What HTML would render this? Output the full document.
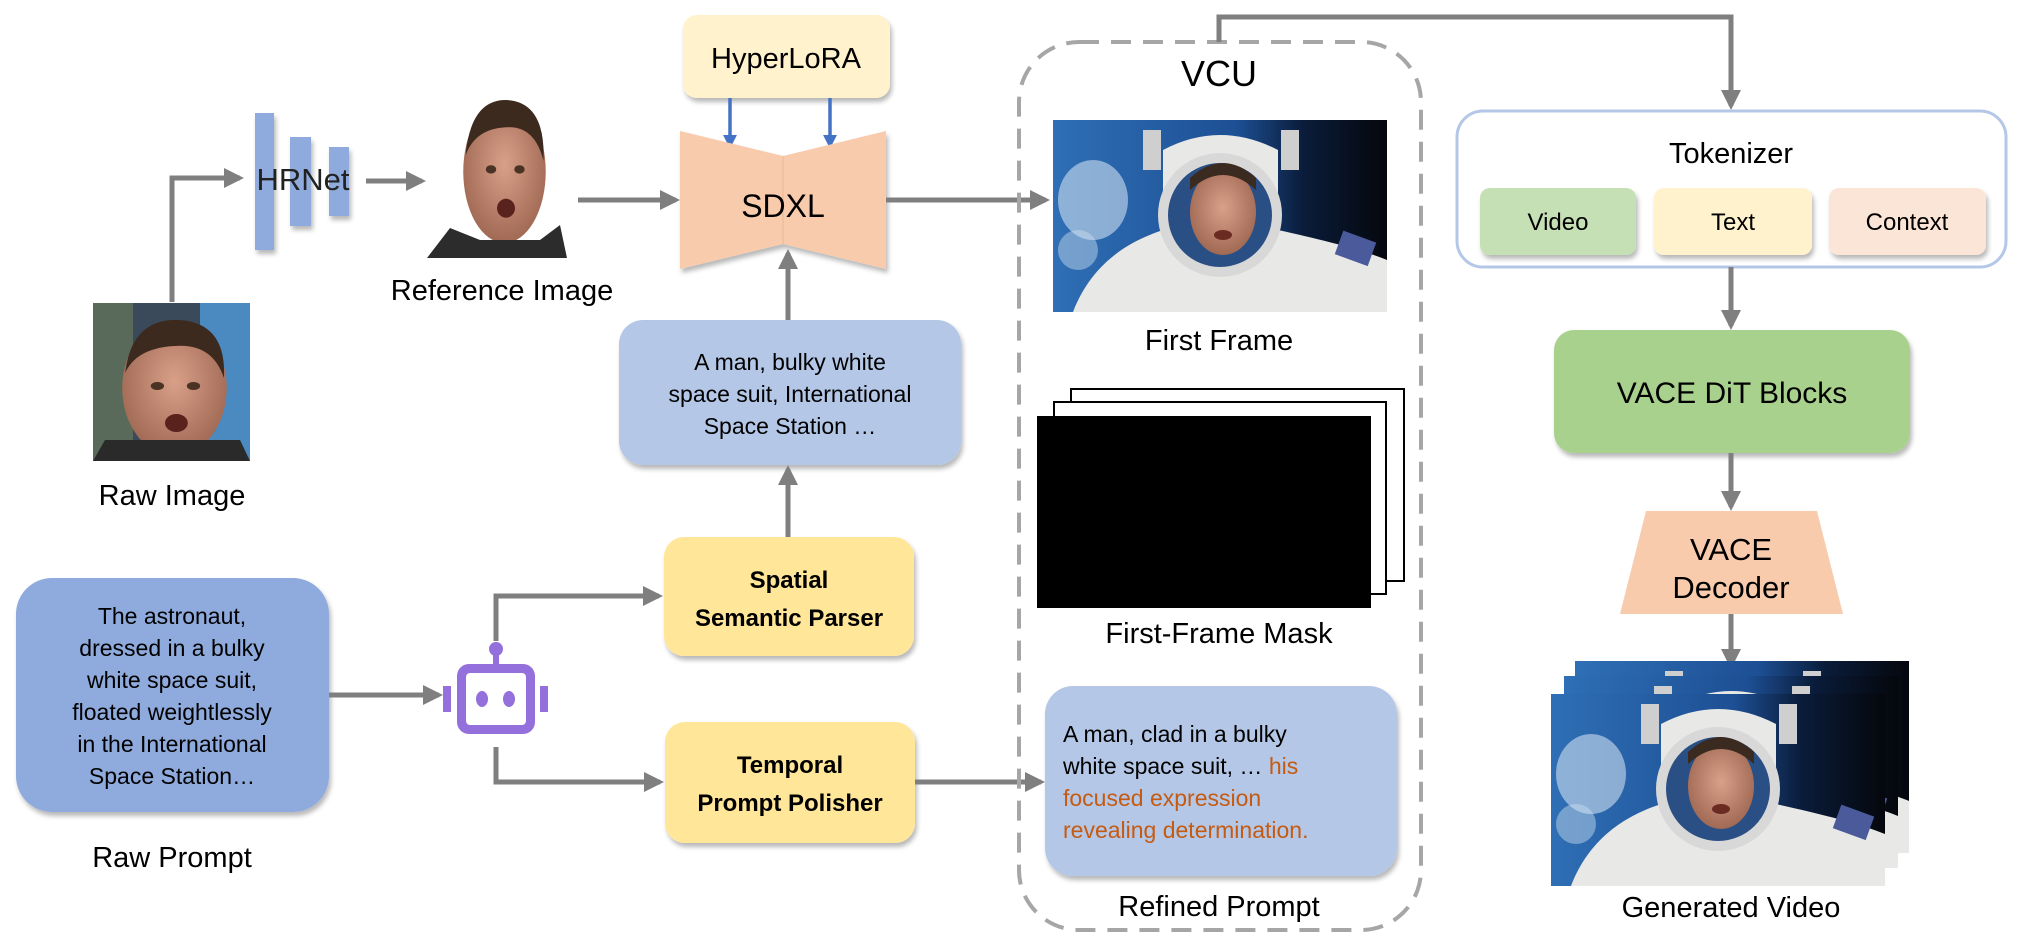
<!DOCTYPE html>
<html><head><meta charset="utf-8"><style>
html,body{margin:0;padding:0;background:#fff;}
svg{display:block;font-family:"Liberation Sans",Arial,sans-serif;}
</style></head><body>
<svg width="2023" height="938" viewBox="0 0 2023 938" xmlns="http://www.w3.org/2000/svg">
<defs>
<filter id="sh" x="-10%" y="-10%" width="125%" height="130%"><feDropShadow dx="2" dy="4" stdDeviation="2.5" flood-color="#000" flood-opacity="0.28"/></filter>
<marker id="ag" markerWidth="4" markerHeight="4" refX="3.2" refY="2" orient="auto" markerUnits="strokeWidth"><path d="M0,0 L4,2 L0,4 z" fill="#7f7f7f"/></marker>
<marker id="ab" markerWidth="4" markerHeight="4" refX="3.2" refY="2" orient="auto" markerUnits="strokeWidth"><path d="M0,0 L4,2 L0,4 z" fill="#4472c4"/></marker>
<linearGradient id="earth" x1="0" y1="0" x2="1" y2="0"><stop offset="0" stop-color="#2f6fb5"/><stop offset="0.55" stop-color="#1d4f94"/><stop offset="0.75" stop-color="#0a1c3a"/><stop offset="1" stop-color="#05070c"/></linearGradient>
<radialGradient id="skin" cx="0.5" cy="0.45" r="0.6"><stop offset="0" stop-color="#d9a089"/><stop offset="1" stop-color="#9c6550"/></radialGradient>
<g id="astro">
  <rect x="0" y="0" width="334" height="192" fill="url(#earth)"/>
  <ellipse cx="40" cy="80" rx="35" ry="40" fill="#cfe0f0" opacity="0.6"/>
  <ellipse cx="25" cy="130" rx="20" ry="20" fill="#cfe0f0" opacity="0.45"/>
  <path d="M20,192 C40,140 80,120 110,110 L110,30 Q167,0 225,30 L225,110 C270,120 310,130 334,140 L334,192 Z" fill="#e8e8e6"/>
  <circle cx="167" cy="95" r="62" fill="#d8d8d8"/>
  <circle cx="167" cy="95" r="52" fill="#2a4f85"/>
  <ellipse cx="170" cy="92" rx="33" ry="43" fill="url(#skin)"/>
  <path d="M137,70 Q170,40 203,70 L203,58 Q170,28 137,58 Z" fill="#3a2a20"/>
  <ellipse cx="170" cy="115" rx="9" ry="5" fill="#6b2a22"/>
  <rect x="285" y="115" width="35" height="25" fill="#4a5a9a" transform="rotate(20 300 128)"/>
  <rect x="90" y="10" width="18" height="40" fill="#cfcfcf"/><rect x="228" y="10" width="18" height="40" fill="#cfcfcf"/>
</g>
<g id="face">
  <ellipse cx="70" cy="70" rx="55" ry="68" fill="url(#skin)"/>
  <path d="M18,55 Q25,0 75,2 Q125,5 122,60 Q110,25 70,28 Q30,30 18,55 Z" fill="#3d2a1e"/>
  <ellipse cx="52" cy="68" rx="7" ry="4" fill="#4a3325"/><ellipse cx="90" cy="68" rx="7" ry="4" fill="#4a3325"/>
  <ellipse cx="72" cy="105" rx="12" ry="9" fill="#5a221c"/>
</g>
</defs>

<!-- Raw image -->
<rect x="93" y="303" width="157" height="158" fill="#3a4a5a"/>
<rect x="200" y="303" width="50" height="158" fill="#4a8ac0"/>
<rect x="93" y="303" width="40" height="158" fill="#5a6a5a"/>
<use href="#face" transform="translate(108,318) scale(0.95,1)"/>
<path d="M105,440 L240,440 L250,461 L93,461 Z" fill="#2a2a2a"/>
<text x="172" y="505" font-size="29" text-anchor="middle">Raw Image</text>

<!-- connector raw->HRNet -->
<path d="M172,302 V178 H240" fill="none" stroke="#7f7f7f" stroke-width="5" marker-end="url(#ag)"/>
<!-- HRNet -->
<g filter="url(#sh)">
<rect x="255" y="113" width="19" height="137" fill="#8faadc"/>
<rect x="290" y="137" width="21" height="89" fill="#8faadc"/>
<rect x="329" y="147" width="20" height="69" fill="#8faadc"/>
</g>
<text x="303" y="190" font-size="31" text-anchor="middle" fill="#222">HRNet</text>
<path d="M366,181 H422" fill="none" stroke="#7f7f7f" stroke-width="5" marker-end="url(#ag)"/>
<!-- reference image -->
<use href="#face" transform="translate(452,98) scale(0.75,1.05)"/>
<path d="M427,258 L450,228 L480,240 L540,240 L560,225 L567,258 Z" fill="#2c2c2c"/>
<text x="502" y="300" font-size="29" text-anchor="middle">Reference Image</text>
<path d="M578,200 H676" fill="none" stroke="#7f7f7f" stroke-width="5" marker-end="url(#ag)"/>

<!-- HyperLoRA -->
<rect x="683" y="15" width="207" height="83" rx="14" fill="#fff2cc" filter="url(#sh)"/>
<text x="786" y="68" font-size="29" text-anchor="middle">HyperLoRA</text>
<path d="M730,98 V146" stroke="#4472c4" stroke-width="3.5" marker-end="url(#ab)"/>
<path d="M830,98 V146" stroke="#4472c4" stroke-width="3.5" marker-end="url(#ab)"/>
<!-- SDXL -->
<g filter="url(#sh)">
<path d="M680,131 L783,156 L783,244 L680,269 Z" fill="#f8cbad"/>
<path d="M886,131 L783,156 L783,244 L886,269 Z" fill="#f8cbad"/>
</g>
<line x1="783" y1="156" x2="783" y2="244" stroke="#e8b898" stroke-width="1"/>
<text x="783" y="217" font-size="32" text-anchor="middle">SDXL</text>
<path d="M886,200 H1046" fill="none" stroke="#7f7f7f" stroke-width="5" marker-end="url(#ag)"/>
<path d="M788,320 V253" fill="none" stroke="#7f7f7f" stroke-width="5" marker-end="url(#ag)"/>

<!-- prompt box -->
<rect x="619" y="320" width="342" height="145" rx="24" fill="#b4c7e7" filter="url(#sh)"/>
<g font-size="23" text-anchor="middle"><text x="790" y="370">A man, bulky white</text><text x="790" y="402">space suit, International</text><text x="790" y="434">Space Station …</text></g>
<path d="M788,537 V469" fill="none" stroke="#7f7f7f" stroke-width="5" marker-end="url(#ag)"/>

<!-- Raw prompt -->
<rect x="16" y="578" width="313" height="234" rx="36" fill="#8faadc" filter="url(#sh)"/>
<g font-size="23" text-anchor="middle"><text x="172" y="624">The astronaut,</text><text x="172" y="656">dressed in a bulky</text><text x="172" y="688">white space suit,</text><text x="172" y="720">floated weightlessly</text><text x="172" y="752">in the International</text><text x="172" y="784">Space Station…</text></g>
<text x="172" y="867" font-size="29" text-anchor="middle">Raw Prompt</text>
<path d="M329,695 H439" fill="none" stroke="#7f7f7f" stroke-width="5" marker-end="url(#ag)"/>

<!-- robot -->
<g fill="#9370db">
<circle cx="496" cy="649" r="7"/><rect x="493" y="650" width="6" height="16"/>
<rect x="457" y="664" width="78" height="70" rx="12"/>
<rect x="443" y="686" width="8" height="26"/><rect x="540" y="686" width="8" height="26"/>
</g>
<rect x="466" y="673" width="60" height="52" rx="4" fill="#fff"/>
<ellipse cx="482" cy="699" rx="6" ry="8" fill="#9370db"/><ellipse cx="509" cy="699" rx="6" ry="8" fill="#9370db"/>
<path d="M496,641 V596 H659" fill="none" stroke="#7f7f7f" stroke-width="5" marker-end="url(#ag)"/>
<path d="M496,747 V782 H660" fill="none" stroke="#7f7f7f" stroke-width="5" marker-end="url(#ag)"/>

<!-- Spatial / Temporal -->
<rect x="664" y="537" width="250" height="119" rx="20" fill="#ffe699" filter="url(#sh)"/>
<g font-size="24" font-weight="bold" text-anchor="middle"><text x="789" y="588">Spatial</text><text x="789" y="626">Semantic Parser</text></g>
<rect x="665" y="722" width="250" height="121" rx="20" fill="#ffe699" filter="url(#sh)"/>
<g font-size="24" font-weight="bold" text-anchor="middle"><text x="790" y="773">Temporal</text><text x="790" y="811">Prompt Polisher</text></g>
<path d="M915,782 H1041" fill="none" stroke="#7f7f7f" stroke-width="5" marker-end="url(#ag)"/>

<!-- VCU -->
<rect x="1019" y="42" width="402" height="888" rx="60" fill="none" stroke="#a6a6a6" stroke-width="4" stroke-dasharray="20 12"/>
<text x="1219" y="86" font-size="36" text-anchor="middle">VCU</text>
<path d="M1219,42 V17 H1731 V106" fill="none" stroke="#7f7f7f" stroke-width="5" marker-end="url(#ag)"/>
<use href="#astro" transform="translate(1053,120)"/>
<text x="1219" y="350" font-size="29" text-anchor="middle">First Frame</text>
<rect x="1071" y="389" width="333" height="192" fill="#fff" stroke="#000" stroke-width="2"/>
<rect x="1054" y="402" width="332" height="192" fill="#fff" stroke="#000" stroke-width="2"/>
<rect x="1037" y="416" width="334" height="192" fill="#000"/>
<text x="1219" y="643" font-size="29" text-anchor="middle">First-Frame Mask</text>
<rect x="1045" y="686" width="352" height="190" rx="28" fill="#b4c7e7" filter="url(#sh)"/>
<g font-size="23"><text x="1063" y="742">A man, clad in a bulky</text><text x="1063" y="774">white space suit, … <tspan fill="#c55a11">his</tspan></text><text x="1063" y="806" fill="#c55a11">focused expression</text><text x="1063" y="838" fill="#c55a11">revealing determination.</text></g>
<text x="1219" y="916" font-size="29" text-anchor="middle">Refined Prompt</text>

<!-- Tokenizer -->
<rect x="1457" y="111" width="549" height="156" rx="26" fill="#fff" stroke="#b4c7e7" stroke-width="3"/>
<text x="1731" y="163" font-size="29" text-anchor="middle">Tokenizer</text>
<rect x="1480" y="188" width="156" height="67" rx="10" fill="#c5e0b4" filter="url(#sh)"/>
<rect x="1654" y="188" width="158" height="67" rx="10" fill="#fff2cc" filter="url(#sh)"/>
<rect x="1829" y="188" width="157" height="67" rx="10" fill="#fbe5d6" filter="url(#sh)"/>
<g font-size="24" text-anchor="middle"><text x="1558" y="230">Video</text><text x="1733" y="230">Text</text><text x="1907" y="230">Context</text></g>
<path d="M1731,267 V326" fill="none" stroke="#7f7f7f" stroke-width="5" marker-end="url(#ag)"/>
<rect x="1554" y="330" width="356" height="123" rx="20" fill="#a9d18e" filter="url(#sh)"/>
<text x="1732" y="403" font-size="30" text-anchor="middle">VACE DiT Blocks</text>
<path d="M1731,453 V507" fill="none" stroke="#7f7f7f" stroke-width="5" marker-end="url(#ag)"/>
<path d="M1646,511 L1817,511 L1843,614 L1620,614 Z" fill="#f8cbad"/>
<g font-size="31" text-anchor="middle"><text x="1731" y="560">VACE</text><text x="1731" y="598">Decoder</text></g>
<path d="M1731,614 V665" fill="none" stroke="#7f7f7f" stroke-width="5" marker-end="url(#ag)"/>

<!-- Generated video -->
<use href="#astro" transform="translate(1575,661)"/>
<use href="#astro" transform="translate(1564,676)"/>
<use href="#astro" transform="translate(1551,694)"/>
<text x="1731" y="917" font-size="29" text-anchor="middle">Generated Video</text>
</svg>
</body></html>
